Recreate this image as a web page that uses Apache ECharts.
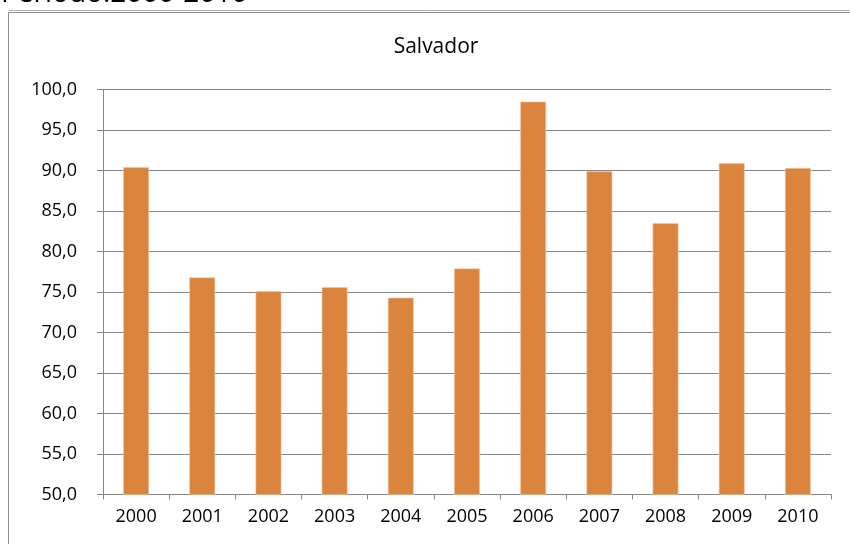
<!DOCTYPE html>
<html><head><meta charset="utf-8">
<script src="https://cdn.jsdelivr.net/npm/echarts@6/dist/echarts.min.js"></script>
<style>html,body{margin:0;padding:0;background:#fff}#c{width:850px;height:544px}</style>
</head><body><div id="c"></div>
<script>
const categories = ['2000','2001','2002','2003','2004','2005','2006','2007','2008','2009','2010'];
const values = [90.4, 76.8, 75.1, 75.6, 74.3, 77.9, 98.5, 89.9, 83.5, 90.9, 90.3];
const chartTitle = 'Salvador';
const headerText = 'Período:2000-2010';
const FONT = '"Open Sans", "Noto Sans", sans-serif';

const chart = echarts.init(document.getElementById('c'));
chart.setOption({
  animation: false,
  backgroundColor: '#fff',
  title: {
    text: chartTitle, left: 431, top: 32, textAlign: 'center',
    textStyle: { fontFamily: FONT, fontSize: 21, fontWeight: 'normal', color: '#000' }
  },
  graphic: [
    { type: 'text', left: 1, top: -20, style: { text: headerText, font: '28px ' + FONT, fill: '#000' } },
    { type: 'rect', shape: { x: 8.5, y: 12.5, width: 860, height: 560 }, style: { fill: 'none', stroke: '#8c8c8c', lineWidth: 1 } },
    { type: 'line', shape: { x1: 9, y1: 10.5, x2: 850, y2: 10.5 }, style: { stroke: '#b4b4b4', lineWidth: 1 } }
  ],
  grid: { left: 103, right: 19, top: 89.5, bottom: 49.5, containLabel: false },
  xAxis: {
    type: 'category', data: categories,
    axisLine: { lineStyle: { color: '#868686', width: 1 } },
    axisTick: { show: true, alignWithLabel: false, length: 5, lineStyle: { color: '#868686' } },
    axisLabel: { fontFamily: FONT, fontSize: 18, color: '#000', margin: 13 },
    splitLine: { show: false }
  },
  yAxis: {
    type: 'value', min: 50, max: 100, interval: 5,
    axisLine: { show: true, lineStyle: { color: '#868686', width: 1 } },
    axisTick: { show: true, inside: false, length: 6, lineStyle: { color: '#868686' } },
    axisLabel: { fontFamily: FONT, fontSize: 18, color: '#000', margin: 26,
      formatter: v => v.toFixed(1).replace('.', ',') },
    splitLine: { show: true, lineStyle: { color: '#868686', width: 1 } }
  },
  series: [{
    type: 'bar', data: values, barWidth: '39%',
    itemStyle: { color: '#DB843D', borderColor: '#F3C9A4', borderWidth: 0.6 }
  }]
});
</script></body></html>
